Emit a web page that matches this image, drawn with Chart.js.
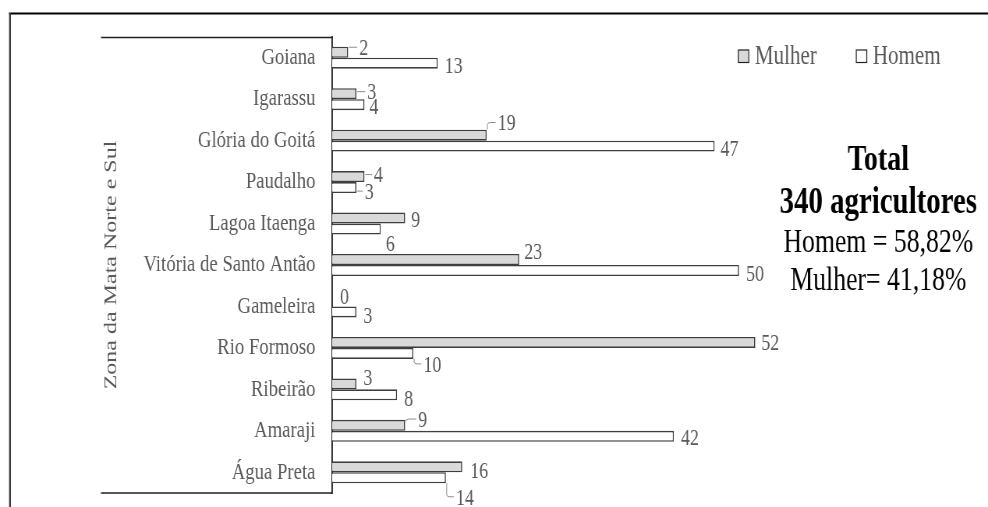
<!DOCTYPE html>
<html>
<head>
<meta charset="utf-8">
<script src="https://cdn.jsdelivr.net/npm/chart.js@4"></script>
<style>
  html, body { margin: 0; padding: 0; background: #fff; overflow: hidden; }
  canvas { display: block; }
</style>
</head>
<body>
<canvas id="chart"></canvas>
<script>
// Agricultores por município, separados por sexo
const municipios = ['Goiana', 'Igarassu', 'Glória do Goitá', 'Paudalho', 'Lagoa Itaenga',
  'Vitória de Santo Antão', 'Gameleira', 'Rio Formoso', 'Ribeirão', 'Amaraji', 'Água Preta'];
const mulher = [2, 3, 19, 4, 9, 23, 0, 52, 3, 9, 16];
const homem = [13, 4, 47, 3, 6, 50, 3, 10, 8, 42, 14];
const seriesNames = ['Mulher', 'Homem'];
const regionTitle = 'Zona da Mata Norte e Sul';

// Value-label nudges relative to the bar end: [dx, dy, leader line]
const mulherLabelNudge = [[11, -5, 1], [11, -2, 1], [11, -12.6, 1], [9.5, -2, 1], [6, 1, 0],
  [5, -8.4, 0], [8, -5, 0], [6, 0, 0], [7, -6.6, 0], [13, -6.3, 1], [8, 3, 0]];
const homemLabelNudge = [[7, 2, 0], [5, 2, 0], [6, 2, 0], [8.5, 3.5, 1], [5, 14, 0],
  [7, 3, 0], [7, 3, 0], [10, 10.5, 1], [7, 3, 0], [7, 1, 0], [10, 19, 1]];

// The chart is drawn on a wider canvas and narrowed by CSS, giving condensed type.
const SQUEEZE = 0.78;
const W = 988, H = 507;
const CW = Math.round(W / SQUEEZE);
const sx = v => v / SQUEEZE;

const SERIF = "'Liberation Serif', 'Times New Roman', Times, serif";
const GREY = '#595959';

const canvas = document.getElementById('chart');
canvas.width = CW;
canvas.height = H;
canvas.style.width = W + 'px';
canvas.style.height = H + 'px';

const sum = a => a.reduce((s, v) => s + v, 0);
const totalM = sum(mulher), totalH = sum(homem), total = totalM + totalH;
const pct = v => (v / total * 100).toFixed(2).replace('.', ',') + '%';

// Outer frame and the bracket around the category labels
const framePlugin = {
  id: 'frame',
  beforeDraw(chart) {
    const { ctx, chartArea } = chart;
    ctx.save();
    ctx.strokeStyle = '#000';
    ctx.lineWidth = 2;
    ctx.beginPath();
    ctx.moveTo(sx(9), 13.5);
    ctx.lineTo(CW, 13.5);
    ctx.stroke();
    ctx.strokeStyle = '#3a3a3a';
    ctx.lineWidth = 2.4;
    ctx.beginPath();
    ctx.moveTo(sx(10), 13);
    ctx.lineTo(sx(10), H);
    ctx.stroke();

    ctx.strokeStyle = '#222';
    ctx.lineWidth = 1.3;
    ctx.beginPath();
    ctx.moveTo(sx(101), chartArea.top + 0.5);
    ctx.lineTo(chartArea.left, chartArea.top + 0.5);
    ctx.moveTo(sx(101), chartArea.bottom);
    ctx.lineTo(chartArea.left, chartArea.bottom);
    ctx.stroke();
    ctx.restore();
  }
};

// Value labels beside each bar, with short leader lines where needed
const valueLabelPlugin = {
  id: 'valueLabels',
  afterDatasetsDraw(chart) {
    const { ctx } = chart;
    const nudges = [mulherLabelNudge, homemLabelNudge];
    const fs = 23;
    ctx.save();
    ctx.font = `${fs}px ${SERIF}`;
    ctx.fillStyle = GREY;
    ctx.textAlign = 'left';
    ctx.textBaseline = 'alphabetic';
    chart.data.datasets.forEach((ds, di) => {
      const meta = chart.getDatasetMeta(di);
      meta.data.forEach((bar, i) => {
        const { x, y, height } = bar.getProps(['x', 'y', 'height'], true);
        const [dx, dy, leader] = nudges[di][i];
        const tx = x + sx(dx);
        const ly = y + dy;
        if (leader) {
          const top = y - height / 2, bottom = y + height / 2;
          const xa = x + 1;
          ctx.save();
          ctx.strokeStyle = '#8c8c8c';
          ctx.lineWidth = 1;
          ctx.beginPath();
          if (ly < top) {
            ctx.moveTo(xa, top);
            ctx.lineTo(xa, ly + 2);
            ctx.quadraticCurveTo(xa, ly, xa + sx(3), ly);
          } else if (ly > bottom) {
            ctx.moveTo(xa, bottom);
            ctx.lineTo(xa, ly - 2);
            ctx.quadraticCurveTo(xa, ly, xa + sx(3), ly);
          } else {
            ctx.moveTo(xa, ly);
          }
          ctx.lineTo(tx - sx(2), ly);
          ctx.stroke();
          ctx.restore();
        }
        ctx.fillText(String(ds.data[i]), tx, ly + fs * 0.338);
      });
    });
    ctx.restore();
  }
};

// Legend boxes and the totals block on the right
const sidePlugin = {
  id: 'side',
  afterDraw(chart) {
    const { ctx } = chart;
    ctx.save();
    const items = [
      { ds: chart.data.datasets[0], boxX: 738.5, textX: 755 },
      { ds: chart.data.datasets[1], boxX: 856.5, textX: 873 }
    ];
    ctx.font = `27px ${SERIF}`;
    ctx.textBaseline = 'alphabetic';
    ctx.textAlign = 'left';
    items.forEach(it => {
      ctx.fillStyle = it.ds.backgroundColor;
      ctx.strokeStyle = '#222';
      ctx.lineWidth = 1.2;
      ctx.fillRect(sx(it.boxX), 50, sx(10.5), 12.5);
      ctx.strokeRect(sx(it.boxX), 50, sx(10.5), 12.5);
      ctx.fillStyle = GREY;
      ctx.fillText(it.ds.label, sx(it.textX), 63.5);
    });

    const cx = sx(878.5);
    ctx.textAlign = 'center';
    ctx.fillStyle = '#000';
    ctx.font = `bold 36px ${SERIF}`;
    ctx.fillText('Total', cx, 169.5);
    ctx.font = `bold 37px ${SERIF}`;
    ctx.fillText(`${total} agricultores`, cx, 213);
    ctx.font = `33px ${SERIF}`;
    ctx.fillText(`${seriesNames[1]} = ${pct(totalH)}`, cx, 251.5);
    ctx.fillText(`${seriesNames[0]}= ${pct(totalM)}`, cx, 290);
    ctx.restore();
  }
};

new Chart(canvas, {
  type: 'bar',
  data: {
    labels: municipios,
    datasets: [
      {
        label: seriesNames[0],
        data: mulher,
        backgroundColor: '#d9d9d9',
        borderColor: '#3f3f3f',
        borderWidth: 1.6
      },
      {
        label: seriesNames[1],
        data: homem,
        backgroundColor: '#ffffff',
        borderColor: '#3f3f3f',
        borderWidth: 1.6
      }
    ]
  },
  options: {
    indexAxis: 'y',
    responsive: false,
    devicePixelRatio: 1,
    animation: false,
    events: [],
    categoryPercentage: 0.53,
    barPercentage: 1.0,
    layout: { padding: { left: 0, right: 6, top: 37, bottom: 14 } },
    plugins: {
      legend: { display: false },
      tooltip: { enabled: false },
      title: { display: false }
    },
    scales: {
      x: {
        display: false,
        min: 0,
        max: 80
      },
      y: {
        afterFit(scale) {
          scale.width = sx(332);
          scale.paddingTop = 0;
          scale.paddingBottom = 0;
        },
        grid: { display: false, drawTicks: false },
        border: { display: true, color: '#111', width: 1.8 },
        ticks: {
          padding: sx(16.5),
          color: GREY,
          font: { family: SERIF, size: 24 }
        },
        title: {
          display: true,
          text: regionTitle,
          color: GREY,
          font: { family: SERIF, size: 24 },
          padding: { top: 128, bottom: 0 }
        }
      }
    }
  },
  plugins: [framePlugin, valueLabelPlugin, sidePlugin]
});
</script>
</body>
</html>
